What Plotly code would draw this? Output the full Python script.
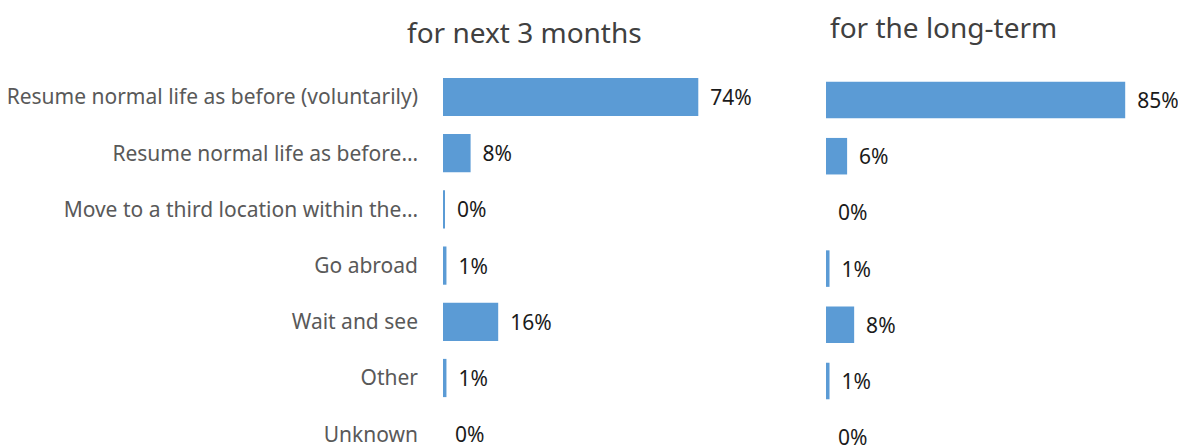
import plotly.graph_objects as go

categories = [
    "Resume normal life as before (voluntarily)",
    "Resume normal life as before…",
    "Move to a third location within the…",
    "Go abroad",
    "Wait and see",
    "Other",
    "Unknown",
]
next_3_months = [74, 8, 0.3, 1, 16, 1, 0]
long_term = [85, 6, 0, 1, 8, 1, 0]
next_3_months_labels = ["74%", "8%", "0%", "1%", "16%", "1%", "0%"]
long_term_labels = ["85%", "6%", "0%", "1%", "8%", "1%", "0%"]

OFF = 8  # browser body margin
W, H = 1186 - OFF, 446 - OFF
BAR = "#5B9BD5"
FONT = "Noto Sans, Open Sans, sans-serif"
pad = "\u00a0\u2009"


def px(x):
    return (x - OFF) / W


def py(y):
    return 1 - (y - OFF) / H


fig = go.Figure()
fig.add_trace(go.Bar(
    y=categories, x=next_3_months, orientation="h",
    marker=dict(color=BAR, line=dict(width=0)), width=0.68,
    text=[pad + t for t in next_3_months_labels], textposition="outside",
    textfont=dict(family=FONT, size=21, color="#1a1a1a"),
    cliponaxis=False, xaxis="x", yaxis="y", hoverinfo="skip",
))
fig.add_trace(go.Bar(
    y=categories, x=long_term, orientation="h",
    marker=dict(color=BAR, line=dict(width=0)), width=0.65,
    text=[pad + t for t in long_term_labels], textposition="outside",
    textfont=dict(family=FONT, size=21, color="#1a1a1a"),
    cliponaxis=False, xaxis="x2", yaxis="y2", hoverinfo="skip",
))

step = 56.2
left_top, right_top = 97, 100
bottom = 446

fig.update_layout(
    width=W, height=H, showlegend=False,
    paper_bgcolor="white", plot_bgcolor="white",
    margin=dict(l=0, r=0, t=0, b=0, autoexpand=False),
    font=dict(family=FONT),
    xaxis=dict(domain=[px(443), px(788)], range=[0, 100], visible=False, automargin=False),
    xaxis2=dict(domain=[px(826), px(1178)], range=[0, 100], visible=False, automargin=False),
    yaxis=dict(
        domain=[0, py(left_top - step / 2)],
        range=[(bottom - left_top) / step, -0.5],
        showgrid=False, zeroline=False, showline=False, ticks="",
        ticklabelstandoff=24, automargin=False,
        tickfont=dict(family=FONT, size=21, color="#595959"),
        anchor="x",
    ),
    yaxis2=dict(
        domain=[0, py(right_top - step / 2)],
        range=[(bottom - right_top) / step, -0.5],
        showgrid=False, zeroline=False, showline=False, ticks="",
        showticklabels=False, anchor="x2", automargin=False,
    ),
    annotations=[
        dict(text="for next 3 months", x=px(524), y=py(32), xref="paper", yref="paper",
             xanchor="center", yanchor="middle", showarrow=False,
             font=dict(family=FONT, size=28, color="#404040")),
        dict(text="for the long-term", x=px(943), y=py(27), xref="paper", yref="paper",
             xanchor="center", yanchor="middle", showarrow=False,
             font=dict(family=FONT, size=28, color="#404040")),
    ],
)

fig.write_html("out.html")
